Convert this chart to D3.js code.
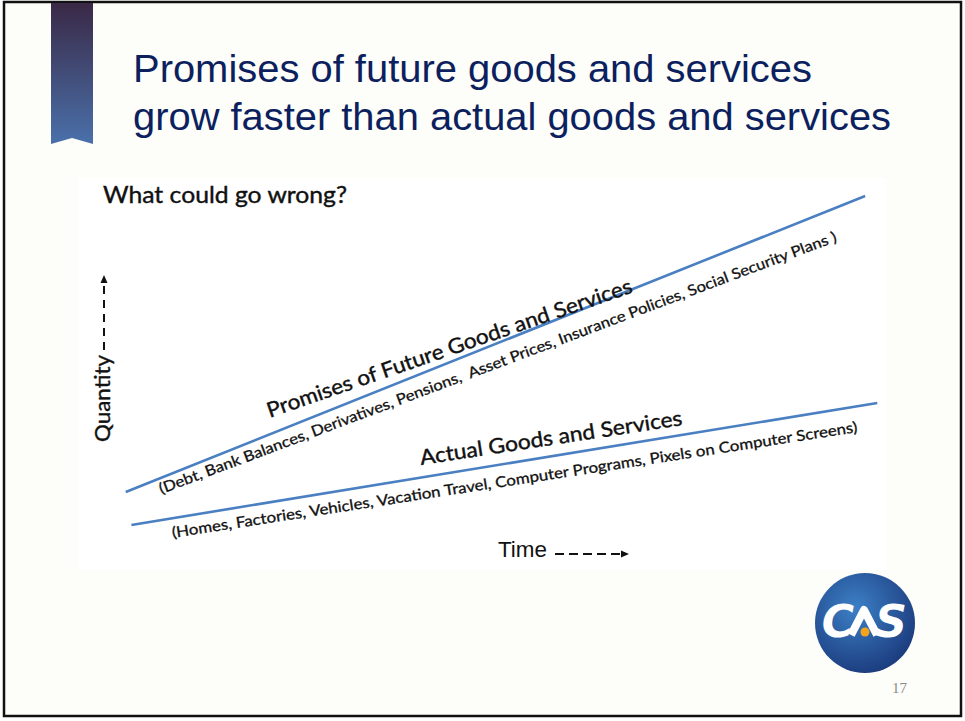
<!DOCTYPE html>
<html lang="en">
<head>
<meta charset="UTF-8">
<title>Promises of future goods and services</title>
<script src="https://d3js.org/d3.v7.min.js"></script>
<style>
    body { margin: 0; background: #ffffff; }
    svg text { white-space: pre; }
</style>
</head>
<body>
<script>
    // --- data ---
    const seriesNames = ["Promises of Future Goods and Services", "Actual Goods and Services"];
    const seriesNotes = [
        "(Debt, Bank Balances, Derivatives, Pensions,  Asset Prices, Insurance Policies, Social Security Plans )",
        "(Homes, Factories, Vehicles, Vacation Travel, Computer Programs, Pixels on Computer Screens)"
    ];
    const promisesTime = [5.9, 97.3];
    const promisesQty = [19.9, 95.4];
    const actualTime = [6.6, 98.8];
    const actualQty = [11.5, 42.6];
    const titleLines = ["Promises of future goods and services", "grow faster than actual goods and services"];
    const subTitle = "What could go wrong?";
    const xLabel = "Time";
    const yLabel = "Quantity";
    const pageNumber = "17";

    const width = 965, height = 721;
    const labelFont = "Lato, 'Open Sans', sans-serif";

    const svg = d3.select("body").append("svg")
        .attr("width", width)
        .attr("height", height);

    const defs = svg.append("defs");
    const rib = defs.append("linearGradient").attr("id", "ribbon")
        .attr("x1", 0).attr("y1", 0).attr("x2", 0).attr("y2", 1);
    rib.append("stop").attr("offset", "0%").attr("stop-color", "#3a2946");
    rib.append("stop").attr("offset", "100%").attr("stop-color", "#4a70aa");

    const logoGrad = defs.append("radialGradient").attr("id", "logoGrad")
        .attr("cx", "40%").attr("cy", "35%").attr("r", "70%");
    logoGrad.append("stop").attr("offset", "0%").attr("stop-color", "#3d80c6");
    logoGrad.append("stop").attr("offset", "100%").attr("stop-color", "#1a3a7c");

    // slide
    svg.append("rect")
        .attr("x", 4).attr("y", 2)
        .attr("width", 957).attr("height", 714)
        .attr("fill", "#fdfdf9")
        .attr("stroke", "#111")
        .attr("stroke-width", 2.5);

    svg.append("path")
        .attr("d", "M51,3 L93,3 L93,144 L72,138 L51,144 Z")
        .attr("fill", "url(#ribbon)");

    svg.append("g").selectAll("text")
        .data(titleLines)
        .join("text")
        .attr("x", 133)
        .attr("y", (d, i) => 82 + i * 48)
        .attr("textLength", (d, i) => i === 0 ? 679 : 758)
        .attr("lengthAdjust", "spacingAndGlyphs")
        .attr("font-family", "'Liberation Sans', Arial, sans-serif")
        .attr("font-size", 38)
        .attr("fill", "#0c1f5e")
        .text(d => d);

    // chart image area
    const x = d3.scaleLinear().domain([0, 100]).range([78, 887]);
    const y = d3.scaleLinear().domain([0, 100]).range([570, 178]);

    svg.append("rect")
        .attr("x", x(0)).attr("y", y(100))
        .attr("width", x(100) - x(0)).attr("height", y(0) - y(100))
        .attr("fill", "#ffffff");

    svg.append("text")
        .attr("x", 103).attr("y", 203)
        .attr("textLength", 244)
        .attr("lengthAdjust", "spacingAndGlyphs")
        .attr("font-family", labelFont)
        .attr("font-size", 23)
        .attr("fill", "#111")
        .attr("stroke", "#111")
        .attr("stroke-width", 0.4)
        .text(subTitle);

    const series = [
        { name: seriesNames[0], note: seriesNotes[0], pts: promisesTime.map((t, i) => ({ t, q: promisesQty[i] })) },
        { name: seriesNames[1], note: seriesNotes[1], pts: actualTime.map((t, i) => ({ t, q: actualQty[i] })) }
    ];

    const line = d3.line().x(d => x(d.t)).y(d => y(d.q));

    svg.append("g").selectAll("path")
        .data(series)
        .join("path")
        .attr("d", d => line(d.pts))
        .attr("fill", "none")
        .attr("stroke", "#4a7fc2")
        .attr("stroke-width", 2.6);

    // label placement along each line, in data units: [start, end] of baseline
    const labelLayout = [
        { text: seriesNames[0], size: 21, a: [23.7, 38.8], b: [68.7, 70.9] },
        { text: seriesNotes[0], size: 15, a: [10.3, 19.4], b: [93.9, 83.9] },
        { text: seriesNames[1], size: 21, a: [42.4, 26.8], b: [74.8, 37.0] },
        { text: seriesNotes[1], size: 15, a: [11.7, 8.2], b: [96.4, 35.2] }
    ];

    svg.append("g").selectAll("text")
        .data(labelLayout)
        .join("text")
        .attr("transform", d => {
            const x0 = x(d.a[0]), y0 = y(d.a[1]);
            const ang = Math.atan2(y(d.b[1]) - y0, x(d.b[0]) - x0) * 180 / Math.PI;
            return `translate(${x0},${y0}) rotate(${ang})`;
        })
        .attr("textLength", d => Math.hypot(x(d.b[0]) - x(d.a[0]), y(d.b[1]) - y(d.a[1])))
        .attr("lengthAdjust", "spacingAndGlyphs")
        .attr("font-family", labelFont)
        .attr("font-size", d => d.size)
        .attr("fill", "#111")
        .attr("stroke", "#111")
        .attr("stroke-width", d => d.size > 18 ? 0.4 : 0.3)
        .text(d => d.text);

    // axis hints
    svg.append("text")
        .attr("transform", "translate(110,442) rotate(-90)")
        .attr("textLength", 87)
        .attr("lengthAdjust", "spacingAndGlyphs")
        .attr("font-family", labelFont)
        .attr("font-size", 22)
        .attr("fill", "#111")
        .attr("stroke", "#111")
        .attr("stroke-width", 0.4)
        .text(yLabel);

    svg.append("line")
        .attr("x1", 104).attr("y1", 350).attr("x2", 104).attr("y2", 282)
        .attr("stroke", "#111").attr("stroke-width", 2)
        .attr("stroke-dasharray", "8,6");
    svg.append("path")
        .attr("d", "M100.5,283 L104,275 L107.5,283 Z")
        .attr("fill", "#111");

    svg.append("text")
        .attr("x", 498).attr("y", 557)
        .attr("textLength", 49)
        .attr("lengthAdjust", "spacingAndGlyphs")
        .attr("font-family", "'Liberation Sans', Arial, sans-serif")
        .attr("font-size", 22)
        .attr("fill", "#111")
        .text(xLabel);

    svg.append("line")
        .attr("x1", 555).attr("y1", 554).attr("x2", 622).attr("y2", 554)
        .attr("stroke", "#111").attr("stroke-width", 2)
        .attr("stroke-dasharray", "9,5");
    svg.append("path")
        .attr("d", "M621,550.5 L629,554 L621,557.5 Z")
        .attr("fill", "#111");

    // logo
    const logo = svg.append("g").attr("transform", "translate(865,623)");
    logo.append("circle").attr("r", 50).attr("fill", "url(#logoGrad)");
    logo.append("text")
        .attr("x", -27).attr("y", 14)
        .attr("text-anchor", "middle")
        .attr("font-family", "'DejaVu Sans', sans-serif")
        .attr("font-weight", "bold")
        .attr("font-style", "italic")
        .attr("font-size", 44)
        .attr("fill", "#fff")
        .text("C");
    logo.append("path")
        .attr("d", "M-14,12 L-1,-13 L12,12")
        .attr("fill", "none")
        .attr("stroke", "#fff")
        .attr("stroke-width", 8)
        .attr("stroke-linejoin", "round");
    logo.append("circle").attr("cx", 0).attr("cy", 9).attr("r", 4.5).attr("fill", "#f2a51c");
    logo.append("text")
        .attr("x", 26).attr("y", 14)
        .attr("text-anchor", "middle")
        .attr("font-family", "'DejaVu Sans', sans-serif")
        .attr("font-weight", "bold")
        .attr("font-style", "italic")
        .attr("font-size", 44)
        .attr("fill", "#fff")
        .text("S");

    svg.append("text")
        .attr("x", 892).attr("y", 693)
        .attr("font-family", "'Liberation Serif', serif")
        .attr("font-size", 15)
        .attr("fill", "#8a8a8a")
        .text(pageNumber);
</script>
</body>
</html>
